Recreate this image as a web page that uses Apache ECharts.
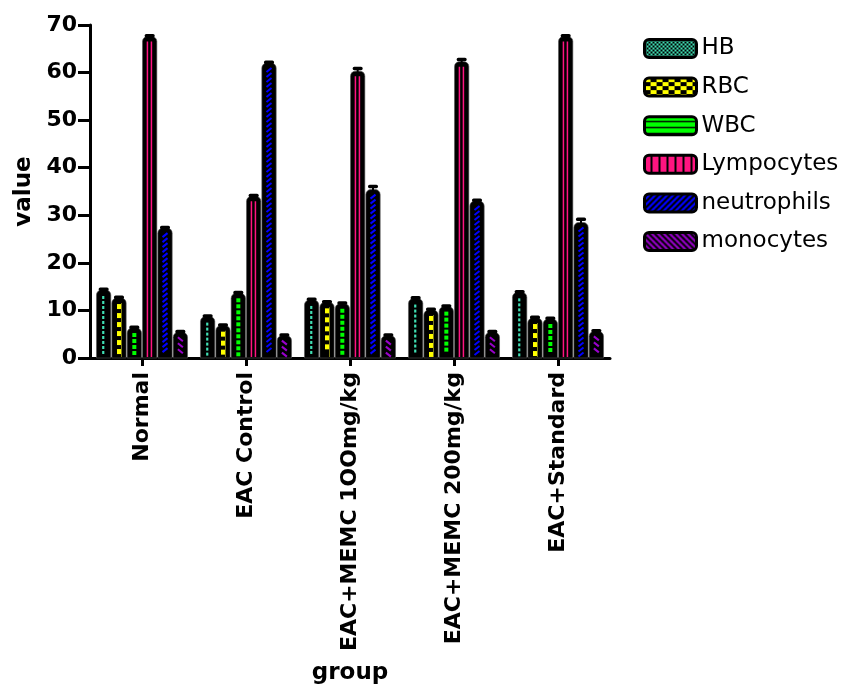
<!DOCTYPE html>
<html>
<head>
<meta charset="utf-8">
<script src="https://cdn.jsdelivr.net/npm/echarts@6/dist/echarts.min.js"></script>
<style>html,body{margin:0;padding:0;background:#fff}#c{width:857px;height:689px}</style>
</head>
<body>
<div id="c"></div>
<script>
// ---- data ----
const categories = ['Normal', 'EAC Control', 'EAC+MEMC 1OOmg/kg', 'EAC+MEMC 200mg/kg', 'EAC+Standard'];
const seriesNames = ['HB', 'RBC', 'WBC', 'Lympocytes', 'neutrophils', 'monocytes'];
const HB          = [14.3, 8.7, 12.2, 12.5, 13.8];
const RBC         = [12.6, 6.8, 11.7, 10.1, 8.4];
const WBC         = [6.3, 13.6, 11.4, 10.8, 8.2];
const Lympocytes  = [67.6, 34.0, 60.3, 62.3, 67.6];
const neutrophils = [27.3, 62.0, 35.4, 33.0, 28.5];
const monocytes   = [5.4, 4.7, 4.7, 5.4, 5.6];
const errHB   = [0.2, 0.2, 0.2, 0.2, 0.2];
const errRBC  = [0.2, 0.2, 0.2, 0.2, 0.2];
const errWBC  = [0.2, 0.2, 0.2, 0.2, 0.2];
const errLym  = [0.2, 0.2, 0.6, 0.5, 0.2];
const errNeu  = [0.2, 0.2, 0.7, 0.2, 0.7];
const errMono = [0.2, 0.2, 0.2, 0.2, 0.2];
const yTicks = [0, 10, 20, 30, 40, 50, 60, 70];

const values = [HB, RBC, WBC, Lympocytes, neutrophils, monocytes];
const errors = [errHB, errRBC, errWBC, errLym, errNeu, errMono];

// ---- styling ----
const FONT = 'DejaVu Sans';
const NS = seriesNames.length;
const GROUP_FRAC = 0.885;
const COLORS = ['#40E0B4', '#FFFF00', '#00FF00', '#FF1480', '#0000FF', '#9900CC'];

function pat(w, h, draw) {
  const c = document.createElement('canvas');
  c.width = w; c.height = h;
  const g = c.getContext('2d');
  g.fillStyle = '#000'; g.fillRect(0, 0, w, h);
  draw(g);
  return { image: c, repeat: 'repeat' };
}
const legendPatterns = [
  pat(4, 4, g => { g.fillStyle = COLORS[0]; g.fillRect(0, 0, 2, 2); g.fillRect(2, 2, 2, 2); }),
  pat(12, 8, g => { g.fillStyle = COLORS[1]; g.fillRect(0, 0, 6, 4); g.fillRect(6, 4, 6, 4); }),
  pat(4, 6, g => { g.fillStyle = COLORS[2]; g.fillRect(0, 0, 4, 4); g.fillRect(0, 5, 4, 0.6); }),
  pat(8, 4, g => { g.fillStyle = COLORS[3]; g.fillRect(0, 0, 6, 4); }),
  pat(6, 6, g => { g.strokeStyle = COLORS[4]; g.lineWidth = 2.2; g.beginPath(); g.moveTo(-1, 7); g.lineTo(7, -1); g.moveTo(-4, 4); g.lineTo(4, -4); g.moveTo(2, 10); g.lineTo(10, 2); g.stroke(); }),
  pat(6, 6, g => { g.strokeStyle = COLORS[5]; g.lineWidth = 2.2; g.beginPath(); g.moveTo(-1, -1); g.lineTo(7, 7); g.moveTo(-4, 2); g.lineTo(4, 10); g.moveTo(2, -4); g.lineTo(10, 4); g.stroke(); })
];

function inner(s, cx, y0, y1) {
  const out = [];
  const col = COLORS[s];
  if (y1 - y0 < 2) return out;
  if (s === 0) {
    for (let y = y0 + 1; y + 3 <= y1; y += 5) out.push({ type: 'rect', shape: { x: cx - 1.5, y: y, width: 2.2, height: 3 }, style: { fill: col } });
  } else if (s === 1) {
    out.push({ type: 'rect', shape: { x: cx + 2, y: y0, width: 0.8, height: y1 - y0 }, style: { fill: '#9a9a20' } });
    for (let y = y0 + 1; y + 5 <= y1; y += 9) out.push({ type: 'rect', shape: { x: cx - 2, y: y, width: 4, height: 5 }, style: { fill: col } });
  } else if (s === 2) {
    for (let y = y0; y + 4 <= y1; y += 6) out.push({ type: 'rect', shape: { x: cx - 2, y: y, width: 4, height: 4 }, style: { fill: col } });
  } else if (s === 3) {
    out.push({ type: 'rect', shape: { x: cx - 3, y: y0, width: 1.5, height: y1 - y0 }, style: { fill: col } });
    out.push({ type: 'rect', shape: { x: cx + 1, y: y0, width: 1.5, height: y1 - y0 }, style: { fill: col } });
  } else if (s === 4) {
    for (let y = y0; y + 4 <= y1; y += 5) out.push({ type: 'line', shape: { x1: cx - 2.5, y1: y + 4, x2: cx + 2.5, y2: y }, style: { stroke: col, lineWidth: 2 } });
  } else {
    for (let y = y0; y + 4 <= y1; y += 6) out.push({ type: 'line', shape: { x1: cx - 2.5, y1: y, x2: cx + 2.5, y2: y + 4 }, style: { stroke: col, lineWidth: 2 } });
  }
  return out;
}

function makeRender(s) {
  return function (params, api) {
    const ci = api.value(0), v = api.value(1), e = api.value(2);
    const base = api.coord([ci, 0]);
    const top = api.coord([ci, v]);
    const errTop = api.coord([ci, v + e]);
    const band = api.size([1, 0])[0];
    const groupW = band * GROUP_FRAC;
    const bw = groupW / NS;
    const x0 = base[0] - groupW / 2 + s * bw;
    const cx = x0 + bw / 2;
    const children = [
      { type: 'rect', shape: { x: x0 + 0.5, y: top[1], width: bw - 1, height: base[1] - top[1], r: [5, 5, 0, 0] }, style: { fill: '#000', stroke: '#555', lineWidth: 0.6 } },
      { type: 'line', shape: { x1: cx, y1: top[1] + 2, x2: cx, y2: errTop[1] }, style: { stroke: '#000', lineWidth: 2 } },
      { type: 'rect', shape: { x: cx - bw * 0.33, y: errTop[1] - 1.5, width: bw * 0.66, height: 3.5, r: 1.7 }, style: { fill: '#000' } }
    ].concat(inner(s, cx, top[1] + 5, base[1] - 1));
    return { type: 'group', children: children };
  };
}

const series = seriesNames.map((name, s) => ({
  name: name,
  type: 'custom',
  renderItem: makeRender(s),
  encode: { x: 0, y: 1 },
  itemStyle: { color: legendPatterns[s] },
  data: categories.map((c, i) => [i, values[s][i], errors[s][i]]),
  z: 2
}));

const chart = echarts.init(document.getElementById('c'), null, { renderer: 'canvas' });
chart.setOption({
  animation: false,
  backgroundColor: '#fff',
  grid: { left: 90, top: 25, width: 520, height: 333, containLabel: false },
  legend: {
    orient: 'vertical',
    left: 643, top: 37, padding: 0,
    itemWidth: 52, itemHeight: 18, itemGap: 15.6,
    selectedMode: false,
    textStyle: { fontFamily: FONT, fontSize: 23, color: '#000' },
    data: seriesNames.map((n, s) => ({ name: n, icon: 'roundRect', itemStyle: { color: legendPatterns[s], borderColor: '#000', borderWidth: 3 } }))
  },
  xAxis: {
    type: 'category',
    data: categories,
    boundaryGap: true,
    name: 'group',
    nameLocation: 'middle',
    nameGap: 304,
    nameTextStyle: { fontFamily: FONT, fontWeight: 'bold', fontSize: 23, color: '#000' },
    axisLine: { show: true, lineStyle: { color: '#000', width: 3 } },
    axisTick: { show: true, alignWithLabel: true, interval: 0, length: 8, lineStyle: { color: '#000', width: 3 } },
    axisLabel: { interval: 0, rotate: 90, margin: 14, fontFamily: FONT, fontWeight: 'bold', fontSize: 22, color: '#000' },
    splitLine: { show: false }
  },
  yAxis: {
    type: 'value',
    min: yTicks[0], max: yTicks[yTicks.length - 1], interval: yTicks[1] - yTicks[0],
    name: 'value',
    nameLocation: 'middle',
    nameGap: 54,
    nameTextStyle: { fontFamily: FONT, fontWeight: 'bold', fontSize: 23, color: '#000' },
    axisLine: { show: true, lineStyle: { color: '#000', width: 3 } },
    axisTick: { show: true, length: 12, lineStyle: { color: '#000', width: 3 } },
    axisLabel: { margin: 13, fontFamily: FONT, fontWeight: 'bold', fontSize: 22, color: '#000' },
    splitLine: { show: false }
  },
  series: series
});
</script>
</body>
</html>
